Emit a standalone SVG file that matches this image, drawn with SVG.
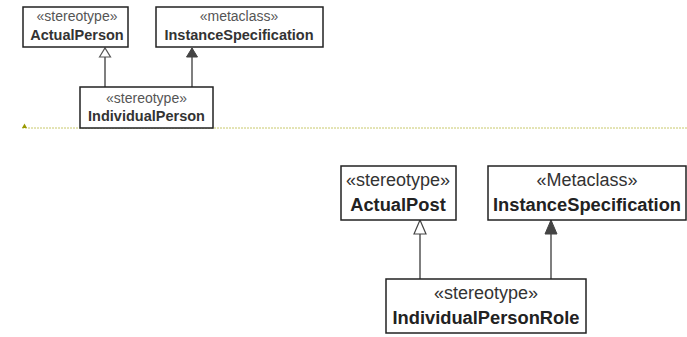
<svg xmlns="http://www.w3.org/2000/svg" width="687" height="337" viewBox="0 0 687 337">
<style>
.box{fill:#fff;stroke:#222;stroke-width:1.5}
.st1{font-family:"Liberation Sans",Arial,sans-serif;font-size:14px;fill:#555;text-anchor:middle}
.nm1{font-family:"Liberation Sans",Arial,sans-serif;font-size:14.5px;font-weight:bold;fill:#333;text-anchor:middle}
.st2{font-family:"Liberation Sans",Arial,sans-serif;font-size:18px;fill:#333;text-anchor:middle}
.nm2{font-family:"Liberation Sans",Arial,sans-serif;font-size:18.3px;font-weight:bold;fill:#222;text-anchor:middle}
.ln{stroke:#555;stroke-width:1.5;fill:none}
</style>
<defs>
<marker id="hollow" markerWidth="12" markerHeight="14" refX="10" refY="7" orient="auto" markerUnits="userSpaceOnUse"><path d="M1,1.5 L10,7 L1,12.5 Z" fill="#fff" stroke="#555" stroke-width="1.2"/></marker>
<marker id="filled" markerWidth="12" markerHeight="14" refX="10" refY="7" orient="auto" markerUnits="userSpaceOnUse"><path d="M1,1.5 L10,7 L1,12.5 Z" fill="#444" stroke="#444" stroke-width="1"/></marker>
<marker id="hollow2" markerWidth="16" markerHeight="14" refX="15" refY="7" orient="auto" markerUnits="userSpaceOnUse"><path d="M1,1 L15,7 L1,13 Z" fill="#fff" stroke="#444" stroke-width="1.2"/></marker>
<marker id="filled2" markerWidth="16" markerHeight="14" refX="15" refY="7" orient="auto" markerUnits="userSpaceOnUse"><path d="M1,1 L15,7 L1,13 Z" fill="#444" stroke="#444" stroke-width="1"/></marker>
</defs>
<rect width="687" height="337" fill="#fff"/>
<g id="connectors">
<line class="ln" x1="105" y1="87" x2="105" y2="48" marker-end="url(#hollow)"/>
<line class="ln" x1="192" y1="87" x2="192" y2="48" marker-end="url(#filled)"/>
<line class="ln" x1="420" y1="279" x2="420" y2="220" marker-end="url(#hollow2)"/>
<line class="ln" x1="551" y1="279" x2="551" y2="220" marker-end="url(#filled2)"/>
</g>
<g id="separator">
<line x1="22" y1="128" x2="687" y2="128" stroke="#c8c86a" stroke-width="1" stroke-dasharray="2,1"/>
<path d="M22,128 L24.5,123.5 L27,128 Z" fill="#999900"/>
</g>
<g id="ActualPerson">
<rect class="box" x="23" y="7" width="105" height="40"/>
<text class="st1" x="77" y="21">«stereotype»</text>
<text class="nm1" x="77" y="40">ActualPerson</text>
</g>
<g id="InstanceSpecification1">
<rect class="box" x="156" y="7" width="167" height="40"/>
<text class="st1" x="239" y="21">«metaclass»</text>
<text class="nm1" x="239" y="40">InstanceSpecification</text>
</g>
<g id="IndividualPerson">
<rect class="box" x="80" y="87" width="133" height="41"/>
<text class="st1" x="146.5" y="103">«stereotype»</text>
<text class="nm1" x="146.5" y="121">IndividualPerson</text>
</g>
<g id="ActualPost">
<rect class="box" x="341" y="166" width="115" height="54"/>
<text class="st2" x="398" y="186">«stereotype»</text>
<text class="nm2" x="398" y="211">ActualPost</text>
</g>
<g id="InstanceSpecification2">
<rect class="box" x="488" y="166" width="198" height="54"/>
<text class="st2" x="587" y="186">«Metaclass»</text>
<text class="nm2" x="587" y="211">InstanceSpecification</text>
</g>
<g id="IndividualPersonRole">
<rect class="box" x="386" y="279" width="200" height="54"/>
<text class="st2" x="486" y="299">«stereotype»</text>
<text class="nm2" x="486" y="324">IndividualPersonRole</text>
</g>
</svg>
